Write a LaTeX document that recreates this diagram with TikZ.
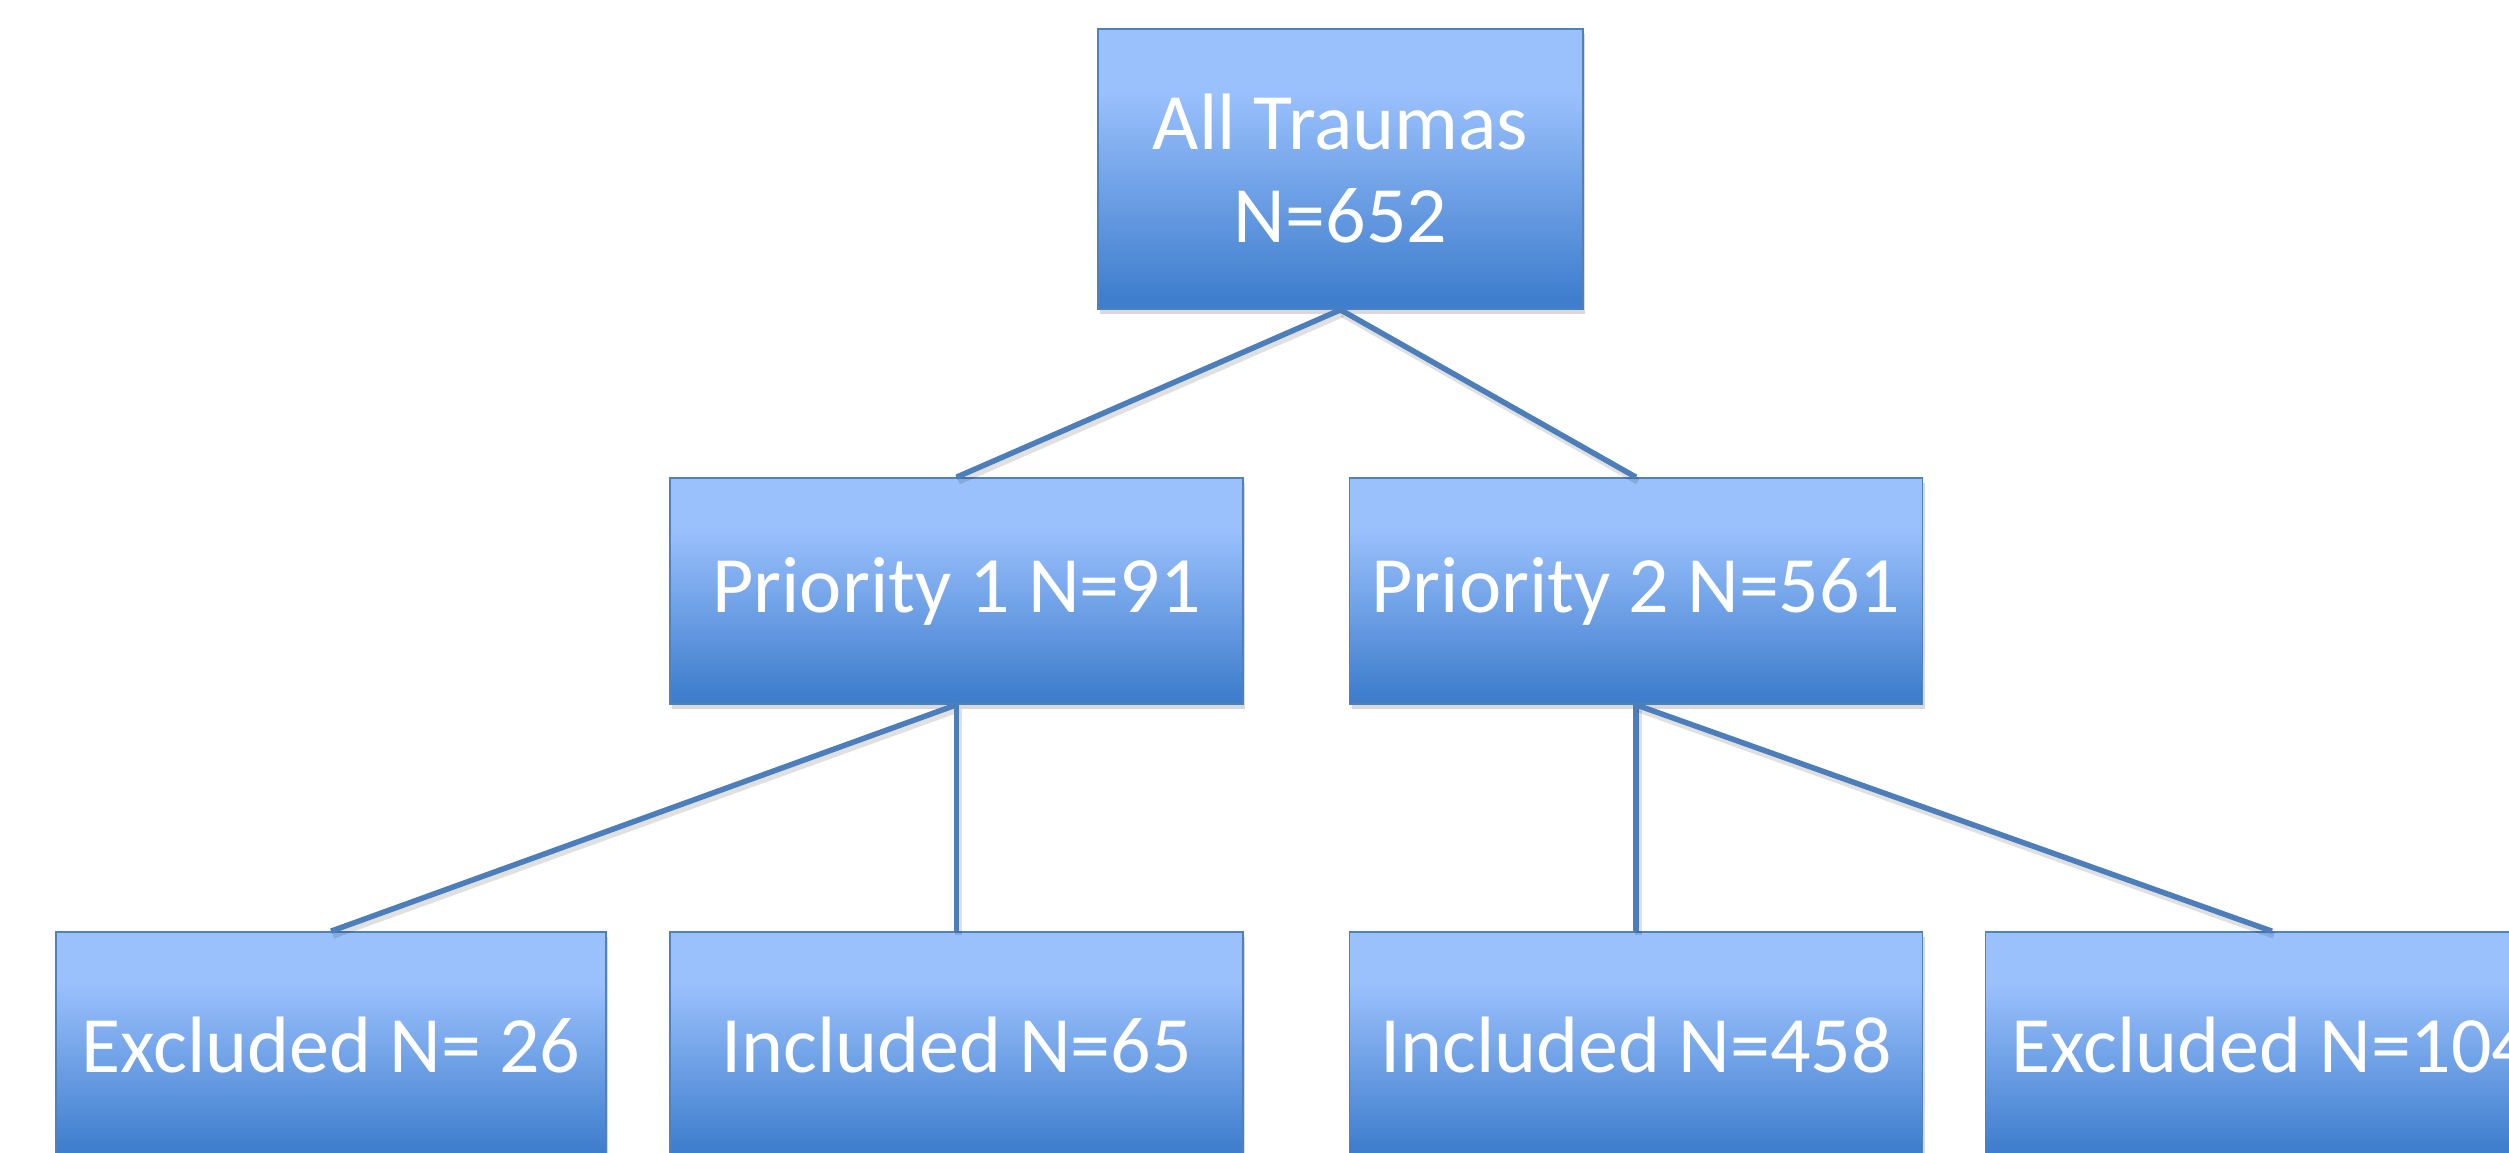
\documentclass[tikz,border=0pt]{standalone}
\usepackage{fontspec}
\setmainfont{Carlito}
\usetikzlibrary{shadows}

\definecolor{boxlight}{RGB}{155,193,253}
\definecolor{boxdark}{RGB}{63,126,205}
\definecolor{edgeblue}{RGB}{79,129,189}
\definecolor{linkblue}{RGB}{76,126,188}

% vertical gradient: dark at the bottom, light band at the top
% (TikZ maps the filled box onto the 25bp..75bp band)
\pgfdeclareverticalshading{boxgrad}{100bp}{%
  color(0bp)=(boxdark); color(27bp)=(boxdark);
  color(64bp)=(boxlight); color(100bp)=(boxlight)}

\tikzset{
  stagebox/.style={rectangle, draw=edgeblue, line width=1.6pt,
    shading=boxgrad, inner sep=0pt, text=white, align=center,
    font=\fontsize{80}{93}\selectfont,
    drop shadow={opacity=0.3, shadow xshift=2pt, shadow yshift=-5pt}},
  link/.style={draw=linkblue, line width=5.5pt,
    preaction={draw, black, opacity=0.12, line width=7pt,
      transform canvas={shift={(2pt,-4pt)}}}}
}

\begin{document}
\begin{tikzpicture}[x=1pt,y=-1pt]
  \useasboundingbox (0,0) rectangle (2509,1153);

  % tree of boxes
  \node[stagebox, minimum width=485pt, minimum height=280pt]
    (all) at (1340.5,169) {All Traumas\\N=652};
  \node[stagebox, minimum width=573pt, minimum height=226pt]
    (p1) at (956.5,591) {Priority 1 N=91};
  \node[stagebox, minimum width=573pt, minimum height=226pt]
    (p2) at (1636,591) {Priority 2 N=561};
  \node[stagebox, minimum width=550pt, minimum height=226pt]
    (ex1) at (331,1045) {Excluded N= 26};
  \node[stagebox, minimum width=573pt, minimum height=226pt]
    (in1) at (956.5,1045) {Included N=65};
  \node[stagebox, minimum width=573pt, minimum height=226pt]
    (in2) at (1636,1045) {Included N=458};
  \node[stagebox, minimum width=573pt, minimum height=226pt]
    (ex2) at (2272,1045) {Excluded N=104};

  % connectors
  \draw[link] (all.south) -- (p1.north);
  \draw[link] (all.south) -- (p2.north);
  \draw[link] (p1.south) -- (ex1.north);
  \draw[link] (p1.south) -- (in1.north);
  \draw[link] (p2.south) -- (in2.north);
  \draw[link] (p2.south) -- (ex2.north);
\end{tikzpicture}
\end{document}
